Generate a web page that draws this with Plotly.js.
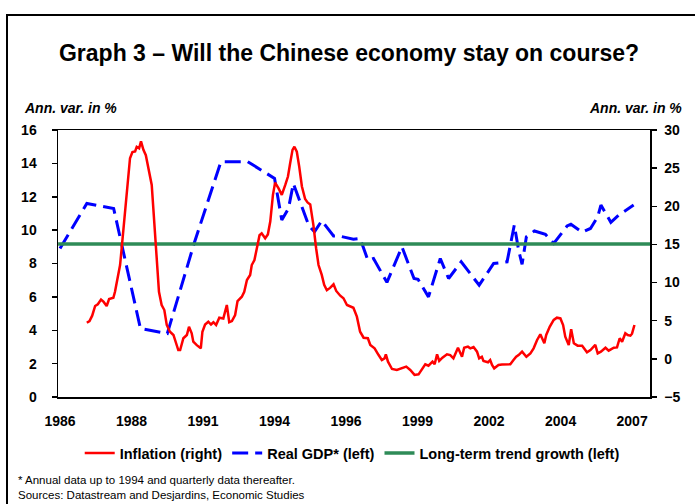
<!DOCTYPE html>
<html>
<head>
<meta charset="utf-8">
<script src="https://cdn.plot.ly/plotly-3.0.1.min.js"></script>
<style>
  html, body { margin: 0; padding: 0; background: #fff; }
  #wrap { position: relative; width: 695px; height: 504px; overflow: hidden; }
  #frame { position: absolute; left: 6px; top: 14px; width: 720px; height: 520px;
           border-left: 2px solid #000; border-top: 2px solid #000; pointer-events: none; }
  #chart { position: absolute; left: 0; top: 0; width: 695px; height: 504px; }
</style>
</head>
<body>
<div id="wrap">
  <div id="chart"></div>
  <div id="frame"></div>
</div>
<script>
// ---- Data ----
const tickLabels = ['1986', '1988', '1991', '1994', '1996', '1999', '2002', '2004', '2007'];

// Real GDP, annual var. in % (left axis); annual to 1994, quarterly thereafter
const gdpYears = [1986, 1987, 1988, 1989, 1990, 1991, 1992, 1993, 1994,
  1994.27, 1994.52, 1994.70, 1995.27, 1995.49, 1995.76, 1996.2, 1996.4, 1996.94,
  1997.19, 1997.48, 1997.69, 1998.19, 1998.75, 1999.2, 1999.35, 1999.74, 2000.18,
  2000.49, 2000.96, 2001.63, 2002.17, 2002.67, 2002.94, 2003.1, 2003.23, 2003.39,
  2003.69, 2004.1, 2004.41, 2004.91, 2005.05, 2005.47, 2005.78, 2006.05, 2006.17,
  2006.54, 2006.83, 2007.39];
const gdpValues = [8.9, 11.6, 11.3, 4.1, 3.8, 9.2, 14.1, 14.1, 13.1,
  10.6, 11.3, 12.8, 10.3, 9.9, 10.56, 9.65, 9.65, 9.45,
  9.5, 8.2, 8.3, 6.87, 9.0, 7.1, 7.05, 6.0, 8.3,
  7.1, 8.1, 6.7, 8.0, 8.1, 10.3, 8.8, 7.95, 9.6,
  9.95, 9.75, 9.2, 10.25, 10.35, 9.87, 10.1, 10.8, 11.5,
  10.47, 10.9, 11.5];

// Inflation, annual var. in % (right axis)
const inflYears = [1987.0, 1987.1, 1987.2, 1987.31, 1987.41, 1987.53, 1987.62, 1987.74, 1987.83, 1987.99,
  1988.05, 1988.12, 1988.18, 1988.24, 1988.30, 1988.36, 1988.45, 1988.53, 1988.61, 1988.70,
  1988.80, 1988.86, 1988.95, 1989.02, 1989.11, 1989.2, 1989.3, 1989.42, 1989.48, 1989.55,
  1989.61, 1989.69, 1989.79, 1989.89, 1989.98, 1990.1, 1990.23, 1990.32, 1990.41, 1990.48,
  1990.6, 1990.73, 1990.81, 1990.91, 1990.97, 1991.1, 1991.25, 1991.31, 1991.41, 1991.53,
  1991.63, 1991.72, 1991.82, 1991.94, 1992.09, 1992.22, 1992.31, 1992.41, 1992.53, 1992.62,
  1992.78, 1992.87, 1992.97, 1993.09, 1993.15, 1993.25, 1993.34, 1993.44, 1993.52, 1993.65,
  1993.75, 1993.84, 1993.94, 1994.02, 1994.15, 1994.27, 1994.40, 1994.5, 1994.58, 1994.67,
  1994.74, 1994.83, 1994.92, 1995.02, 1995.14, 1995.23, 1995.33, 1995.45, 1995.55, 1995.64,
  1995.76, 1995.85, 1995.95, 1996.07, 1996.2, 1996.3, 1996.45, 1996.57, 1996.7, 1996.82,
  1996.94, 1997.07, 1997.19, 1997.32, 1997.48, 1997.57, 1997.73, 1997.88, 1998.0, 1998.10,
  1998.15, 1998.23, 1998.38, 1998.56, 1998.75, 1998.91, 1999.06, 1999.22, 1999.37, 1999.50,
  1999.62, 1999.74, 1999.89, 1999.97, 2000.06, 2000.14, 2000.26, 2000.43, 2000.55, 2000.67,
  2000.84, 2000.99, 2001.07, 2001.21, 2001.3, 2001.42, 2001.55, 2001.63, 2001.73, 2001.79,
  2001.96, 2002.04, 2002.11, 2002.19, 2002.35, 2002.48, 2002.6, 2002.79, 2002.91, 2003.01,
  2003.1, 2003.23, 2003.39, 2003.54, 2003.66, 2003.79, 2003.91, 2004.06, 2004.13, 2004.26,
  2004.41, 2004.53, 2004.66, 2004.76, 2004.84, 2004.97, 2005.06, 2005.16, 2005.3, 2005.47,
  2005.65, 2005.78, 2005.96, 2006.05, 2006.17, 2006.34, 2006.46, 2006.65, 2006.77, 2006.87,
  2006.96, 2007.08, 2007.17, 2007.27, 2007.33, 2007.42];
const inflValues = [4.74, 4.96, 5.66, 6.93, 7.15, 7.76, 7.5, 6.93, 7.85, 8.0,
  8.8, 10.1, 11.65, 12.3, 14.5, 16.7, 20.2, 23.7, 26.3, 27.1,
  27.2, 27.8, 27.6, 28.5, 27.4, 26.7, 25.0, 22.8, 19.7, 15.8,
  12.3, 8.8, 7.06, 6.4, 4.44, 3.56, 3.13, 2.25, 1.16, 1.16,
  2.7, 3.13, 4.2, 3.35, 2.25, 1.8, 1.38, 3.56, 4.5, 4.87,
  4.5, 4.8, 4.44, 5.4, 5.3, 7.06, 4.8, 4.96, 5.75, 7.58,
  8.15, 8.8, 10.34, 11.0, 12.3, 12.96, 14.5, 16.2, 16.45, 15.8,
  16.3, 18.0, 21.5, 23.1, 22.35, 21.5, 22.8, 23.9, 25.6, 27.4,
  27.8, 27.15, 25.2, 22.6, 20.95, 20.5, 20.25, 17.5, 14.5, 12.3,
  11.0, 9.7, 9.0, 9.3, 9.77, 8.9, 8.28, 7.94, 7.06, 6.93,
  6.7, 5.53, 3.56, 2.77, 2.7, 1.82, 1.38, 0.5, -0.15, 0.07,
  0.6, -0.37, -1.33, -1.46, -1.24, -1.02, -1.46, -2.1, -2.03, -1.33,
  -0.71, -0.9, -0.37, -0.71, 0.6, -0.28, 0.15, 0.6, 0.5, 0.07,
  1.46, 0.28, 1.46, 1.6, 1.38, 1.55, 0.94, 0.07, 0.28, -0.28,
  -0.45, -0.15, -0.8, -1.24, -0.8, -0.75, -0.71, -0.71, -0.15, 0.28,
  0.5, 0.94, 0.28, 0.72, 1.38, 2.47, 3.22, 2.04, 3.13, 4.2,
  5.1, 5.4, 5.3, 4.44, 2.9, 1.82, 3.9, 2.04, 1.73, 1.73,
  0.86, 1.16, 1.82, 0.72, 0.94, 1.46, 1.07, 1.46, 1.5, 2.7,
  2.25, 3.35, 3.13, 3.04, 3.3, 4.44];

// Long-term trend growth (left axis)
const trendYears = [1985.93, 2008.0];
const trendValues = [9.17, 9.17];

// ---- Chart ----
const FONT = 'Liberation Sans, Arial, sans-serif';
const xRange = [1985.925, 2008.0];
const tickPositions = tickLabels.map((_, i) => 1986 + i * 32 / 12);

const traces = [
  { x: inflYears, y: inflValues, yaxis: 'y2', type: 'scatter', mode: 'lines',
    name: 'Inflation (right)', line: { color: '#FF0000', width: 2.5 } },
  { x: gdpYears, y: gdpValues, yaxis: 'y', type: 'scatter', mode: 'lines',
    name: 'Real GDP* (left)', line: { color: '#0000FF', width: 3, dash: '16px,7px' } },
  { x: trendYears, y: trendValues, yaxis: 'y', type: 'scatter', mode: 'lines',
    name: 'Long-term trend growth (left)', line: { color: '#2E8B57', width: 3.5 } }
];

const tickFont = { family: FONT, size: 14, color: '#000', weight: 700 };

const layout = {
  width: 695, height: 504,
  paper_bgcolor: '#fff', plot_bgcolor: '#fff',
  margin: { l: 58, r: 45, t: 130, b: 107, pad: 0 },
  showlegend: true,
  title: { text: 'Graph 3 – Will the Chinese economy stay on course?',
    font: { family: FONT, size: 23, color: '#000', weight: 700 },
    xref: 'container', x: 349 / 695, xanchor: 'center',
    yref: 'container', y: 1 - 53 / 504, yanchor: 'middle' },
  xaxis: {
    range: xRange, tickmode: 'array', tickvals: tickPositions, ticktext: tickLabels,
    ticks: '', showgrid: false, zeroline: false,
    showline: true, linecolor: '#000', linewidth: 1.5, mirror: true,
    tickfont: tickFont, ticklabelstandoff: 11
  },
  yaxis: {
    range: [0, 16], dtick: 2, tick0: 0, ticks: 'outside', ticklen: 5, tickwidth: 1.5,
    tickcolor: '#000', showgrid: false, zeroline: false,
    showline: true, linecolor: '#000', linewidth: 1.5,
    tickfont: tickFont, ticklabelstandoff: 12
  },
  yaxis2: {
    range: [-5, 30], dtick: 5, tick0: -5, overlaying: 'y', side: 'right',
    ticks: 'outside', ticklen: 5, tickwidth: 1.5, tickcolor: '#000',
    showgrid: false, zeroline: false,
    showline: true, linecolor: '#000', linewidth: 1.5,
    tickfont: tickFont, ticklabelstandoff: 5
  },
  legend: {
    orientation: 'h', xref: 'paper', x: 0.497, xanchor: 'center',
    yref: 'paper', y: (397 - 453) / 267, yanchor: 'middle',
    font: { family: FONT, size: 14.5, color: '#000', weight: 700 },
    itemwidth: 30, tracegroupgap: 0, bgcolor: 'rgba(0,0,0,0)'
  },
  annotations: [
    { text: '<i>Ann. var. in %</i>', xref: 'paper', yref: 'paper',
      x: (22 - 58) / 592, xanchor: 'left', y: (397 - 108) / 267, yanchor: 'middle',
      showarrow: false, font: { family: FONT, size: 14, color: '#000', weight: 700 } },
    { text: '<i>Ann. var. in %</i>', xref: 'paper', yref: 'paper',
      x: (684 - 58) / 592, xanchor: 'right', y: (397 - 108) / 267, yanchor: 'middle',
      showarrow: false, font: { family: FONT, size: 14, color: '#000', weight: 700 } },
    { text: '* Annual data up to 1994 and quarterly data thereafter.<br>Sources: Datastream and Desjardins, Economic Studies',
      xref: 'paper', yref: 'paper', x: (16 - 58) / 592, xanchor: 'left',
      y: (397 - 472) / 267, yanchor: 'top', align: 'left',
      showarrow: false, font: { family: FONT, size: 11.5, color: '#000' } }
  ]
};

Plotly.newPlot('chart', traces, layout, { displayModeBar: false, staticPlot: true });
</script>
</body>
</html>
